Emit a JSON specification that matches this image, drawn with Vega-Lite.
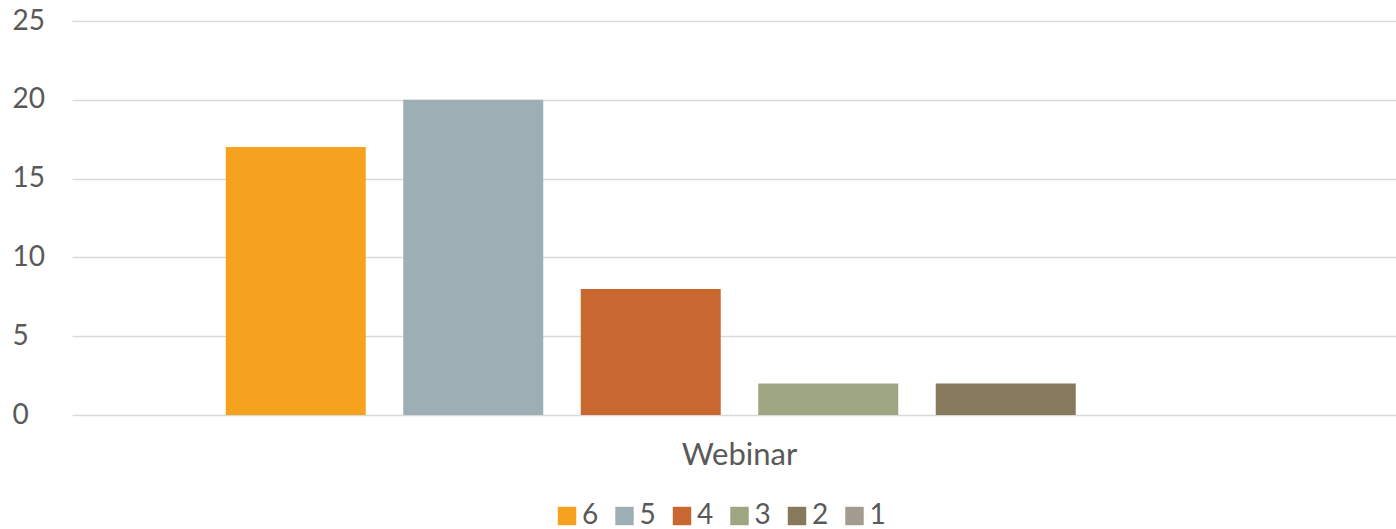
{
  "$schema": "https://vega.github.io/schema/vega-lite/v6.json",
  "width": 1324,
  "height": 394,
  "autosize": {"type": "none"},
  "padding": {"left": 72, "top": 21, "right": 0, "bottom": 114},
  "background": "white",
  "data": {
    "values": [
      {"category": "Webinar", "rating": "6", "count": 17},
      {"category": "Webinar", "rating": "5", "count": 20},
      {"category": "Webinar", "rating": "4", "count": 8},
      {"category": "Webinar", "rating": "3", "count": 2},
      {"category": "Webinar", "rating": "2", "count": 2},
      {"category": "Webinar", "rating": "1", "count": 0}
    ]
  },
  "mark": {"type": "bar"},
  "encoding": {
    "x": {
      "field": "category",
      "type": "nominal",
      "scale": {"paddingInner": 0, "paddingOuter": 0.004189, "align": 1},
      "axis": {
        "title": null,
        "labelAngle": 0,
        "ticks": false,
        "domain": false,
        "labelFontSize": 31,
        "labelColor": "#595959",
        "labelPadding": 25,
        "labelFont": "Lato"
      }
    },
    "xOffset": {
      "field": "rating",
      "type": "nominal",
      "sort": ["6", "5", "4", "3", "2", "1"],
      "scale": {"paddingInner": 0.2113, "paddingOuter": 0.80425, "align": 0.5}
    },
    "y": {
      "field": "count",
      "type": "quantitative",
      "scale": {"domain": [0, 25]},
      "axis": {
        "values": [0, 5, 10, 15, 20, 25],
        "title": null,
        "domain": false,
        "ticks": false,
        "gridColor": "#d9d9d9",
        "gridWidth": 1.5,
        "labelAlign": "left",
        "labelPadding": 60,
        "labelFontSize": 28,
        "labelColor": "#595959",
        "labelFont": "Lato"
      }
    },
    "color": {
      "field": "rating",
      "type": "nominal",
      "sort": ["6", "5", "4", "3", "2", "1"],
      "scale": {
        "domain": ["6", "5", "4", "3", "2", "1"],
        "range": ["#F5A31E", "#9DAFB4", "#C8672F", "#9DA582", "#87795B", "#A39A90"]
      },
      "legend": {
        "orient": "none",
        "legendX": 481,
        "legendY": 481,
        "direction": "horizontal",
        "title": null,
        "symbolType": "square",
        "symbolSize": 340,
        "symbolStrokeWidth": 0,
        "symbolOpacity": 1,
        "labelFontSize": 28,
        "labelFont": "Lato",
        "labelColor": "#595959",
        "labelOffset": 1,
        "columnPadding": 11.5
      }
    }
  },
  "config": {"view": {"stroke": null}}
}
